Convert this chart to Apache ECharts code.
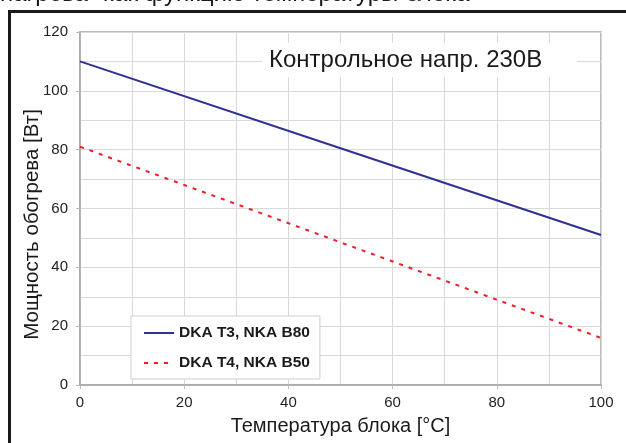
<!DOCTYPE html>
<html>
<head>
<meta charset="utf-8">
<script src="https://cdn.jsdelivr.net/npm/echarts@6/dist/echarts.min.js"></script>
<style>
html,body{margin:0;padding:0;background:#fff;}
#c{width:626px;height:443px;}
</style>
</head>
<body>
<div id="c"></div>
<script>
var temps = [0, 50, 100];
var seriesNames = ['DKA T3, NKA B80', 'DKA T4, NKA B50'];
var powerT3 = [110, 80.5, 51];
var powerT4 = [81, 48.5, 16];
var xTicks = [0, 20, 40, 60, 80, 100];
var yTicks = [0, 20, 40, 60, 80, 100, 120];
var titleText = 'нагрева" как функцию температуры блока"';
var noteText = 'Контрольное напр. 230В';
var xName = 'Температура блока [°C]';
var yName = 'Мощность обогрева [Вт]';

function pairs(xs, ys){ return xs.map(function(x,i){ return [x, ys[i]]; }); }

var chart = echarts.init(document.getElementById('c'), null, {renderer:'canvas'});
var font = 'Arial, "Liberation Sans", sans-serif';
chart.setOption({
  animation:false,
  backgroundColor:'#fff',
  textStyle:{fontFamily:font},
  grid:{left:80, right:25, top:32, bottom:58, show:true, borderColor:'#a6a6a6', borderWidth:1.5, backgroundColor:'transparent'},
  xAxis:{
    type:'value', min:xTicks[0], max:xTicks[xTicks.length-1], interval:20,
    name:xName, nameLocation:'middle', nameGap:31,
    nameTextStyle:{fontSize:20, color:'#1a1a1a', fontFamily:font},
    axisLine:{show:true, lineStyle:{color:'#a6a6a6', width:1.5}},
    axisTick:{show:true, length:4, lineStyle:{color:'#bbb'}},
    axisLabel:{fontSize:15, color:'#222', margin:10, fontFamily:font},
    splitLine:{show:true, lineStyle:{color:'#d9d9d9', width:1}},
    minorTick:{show:false, splitNumber:2},
    minorSplitLine:{show:true, lineStyle:{color:'#d9d9d9', width:1}}
  },
  yAxis:{
    type:'value', min:yTicks[0], max:yTicks[yTicks.length-1], interval:20,
    name:yName, nameLocation:'middle', nameGap:37, nameRotate:90, nameMoveOverlap:false,
    nameTextStyle:{fontSize:20.5, color:'#1a1a1a', fontFamily:font, padding:[0,32,0,0]},
    axisLine:{show:true, lineStyle:{color:'#a6a6a6', width:1.5}},
    axisTick:{show:true, length:4, lineStyle:{color:'#bbb'}},
    axisLabel:{fontSize:15, color:'#222', margin:12, fontFamily:font},
    splitLine:{show:true, lineStyle:{color:'#d9d9d9', width:1}},
    minorTick:{show:false, splitNumber:2},
    minorSplitLine:{show:true, lineStyle:{color:'#d9d9d9', width:1}}
  },
  legend:{
    orient:'vertical', left:131, top:316,
    padding:[9,10,8,12], itemGap:14, itemWidth:30, itemHeight:15,
    backgroundColor:'#fff', borderColor:'#cfcfcf', borderWidth:1,
    itemStyle:{opacity:0},
    textStyle:{fontSize:15.5, fontWeight:'bold', color:'#1a1a1a', fontFamily:font},
    data:seriesNames
  },
  series:[
    {name:seriesNames[0], type:'line', data:pairs(temps, powerT3), showSymbol:false, symbol:'none',
     lineStyle:{color:'#2e3192', width:2}, itemStyle:{color:'#2e3192'}, z:3},
    {name:seriesNames[1], type:'line', data:pairs(temps, powerT4), showSymbol:false, symbol:'none',
     lineStyle:{color:'#ee1c25', width:2, type:[4,6]}, itemStyle:{color:'#ee1c25'}, z:3}
  ],
  graphic:[
    {type:'rect', z:10, shape:{x:262, y:43, width:315, height:34}, style:{fill:'#fff'}},
    {type:'text', z:11, left:269, top:48, style:{text:noteText, font:'24px ' + font, fill:'#1a1a1a'}},
    {type:'text', z:11, left:0, top:-18, style:{text:titleText, font:'24px ' + font, fill:'#1a1a1a'}},
    {type:'polyline', z:12, shape:{points:[[9.5,444],[9.5,11.5],[628,11.5]]}, style:{stroke:'#1a1a1a', lineWidth:3, fill:null}}
  ]
});
</script>
</body>
</html>
